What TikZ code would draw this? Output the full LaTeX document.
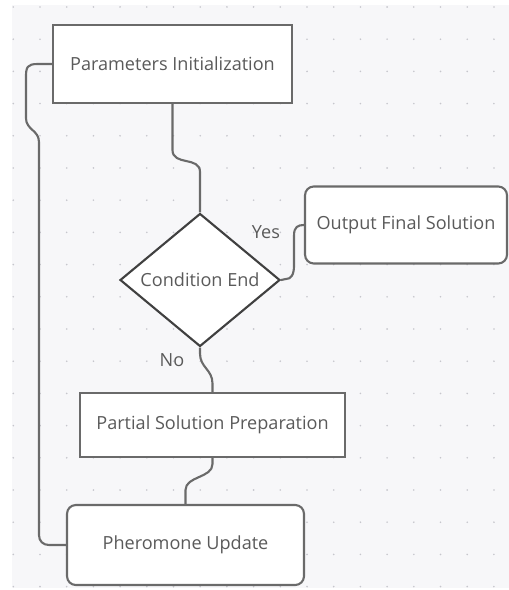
\documentclass[tikz,border=0pt]{standalone}
\usepackage{fontspec}
\setmainfont{Open Sans}
\usetikzlibrary{shapes.geometric}
\definecolor{pagebg}{HTML}{F7F7F9}
\definecolor{griddot}{HTML}{C6C6CC}
\definecolor{edgegray}{HTML}{6A6A6A}
\definecolor{textgray}{HTML}{5A5A5A}
\begin{document}
\begin{tikzpicture}[x=0.02cm, y=-0.02cm,
  every node/.style={text=textgray, font=\fontsize{10.3}{12}\selectfont},
  stepbox/.style={draw=edgegray, line width=1.2pt, fill=white, inner sep=0pt},
  roundbox/.style={stepbox, rounded corners=5pt},
  decision/.style={diamond, draw=black!75, line width=1.2pt, fill=white, inner sep=0pt, minimum width=3.2cm, minimum height=2.52cm},
  link/.style={draw=edgegray, line width=1.2pt, line join=round}]
 \useasboundingbox (0,0) rectangle (509,590);
 \fill[pagebg] (12,5) rectangle (509,588);
 \foreach \i in {0,...,18}
  \foreach \j in {0,...,18}
   \fill[griddot] (13.3+26.7*\i, 7+32.2*\j) circle (0.9);
 \node[stepbox, minimum width=4.78cm, minimum height=1.56cm] (param) at (172.5,64) {Parameters Initialization};
 \node[decision] (cond) at (200,280) {Condition End};
 \node[roundbox, minimum width=4.04cm, minimum height=1.54cm] (output) at (406,225) {Output Final Solution};
 \node[stepbox, minimum width=5.3cm, minimum height=1.28cm] (partial) at (212.5,425) {Partial Solution Preparation};
 \node[roundbox, minimum width=4.74cm, minimum height=1.6cm] (pher) at (185.5,545) {Pheromone Update};
 \draw[link] (param.south) -- ++(0,46) .. controls +(0,16) and +(0,-16) .. ++(27.5,22) -- (cond.north);
 \draw[link] (cond.east) -- ++(5,-1) .. controls +(5,0) and +(0,10) .. ++(8,-14) -- ++(0,-30) .. controls +(0,-8) and +(-6,0) .. (output.west);
 \draw[link] (cond.south) -- ++(0,6) .. controls +(0,14) and +(0,-14) .. ++(12.5,30) -- (partial.north);
 \draw[link] (partial.south) -- ++(0,6) .. controls +(0,14) and +(0,-14) .. ++(-27,26) -- (pher.north);
 \draw[link] (param.west) -- ++(-14,0) .. controls +(-11,0) and +(0,-11) .. ++(-12,14) -- ++(0,40) .. controls +(0,12) and +(0,-12) .. ++(13,24) -- ++(0,393) .. controls +(0,6) and +(-6,0) .. ++(10,10) -- (pher.west);
 \node (yes) at (266,232) {Yes};
 \node (no) at (172,360) {No};
\end{tikzpicture}
\end{document}
